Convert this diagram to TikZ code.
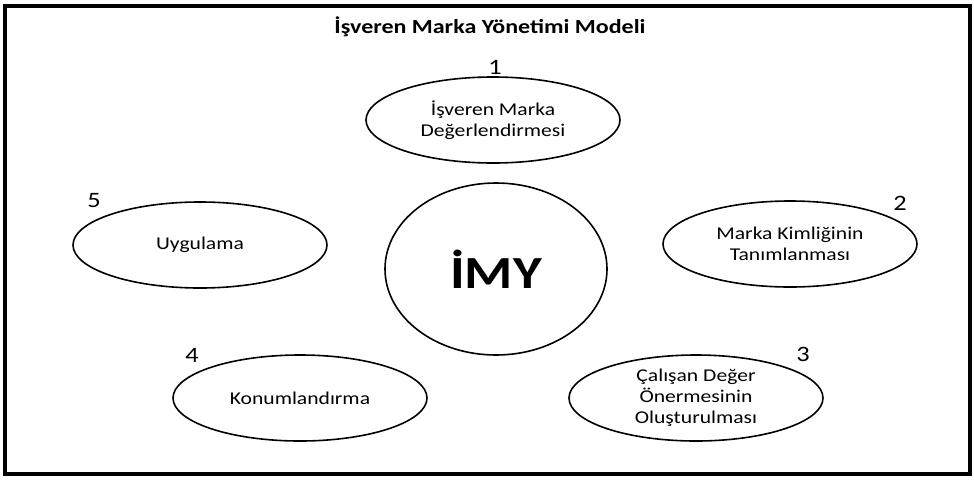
\documentclass[tikz,border=0pt]{standalone}
\usepackage{fontspec}
\setmainfont{Carlito}[FakeStretch=1.2]
\usetikzlibrary{shapes.geometric}

\begin{document}
\begin{tikzpicture}[x=1pt,y=-1pt,
    stage/.style={ellipse,draw,line width=1.6pt,minimum width=254pt,minimum height=86pt,
        inner sep=0pt,align=center,font=\fontsize{18}{21}\selectfont},
    stagenum/.style={font=\fontsize{22}{24}\selectfont}]
        \useasboundingbox (0,0) rectangle (974,480);
        \draw[line width=4pt] (5,6) rectangle (970,474);

        \node (title) at (490,27) {\fontsize{20}{24}\selectfont\bfseries İşveren Marka Yönetimi Modeli};
        \node (imy) [ellipse,draw,line width=1.6pt,minimum width=222pt,minimum height=172pt] at (496,269)
            {\fontsize{46}{50}\selectfont\bfseries İMY};

        \node (eval) [stage] at (493,120) {İşveren Marka\\Değerlendirmesi};
        \node (ident) [stage] at (790,244) {Marka Kimliğinin\\Tanımlanması};
        \node (value) [stage] at (696,398) {Çalışan Değer\\Önermesinin\\Oluşturulması};
        \node (pos) [stage] at (300,398) {Konumlandırma};
        \node (impl) [stage] at (200,245) {Uygulama};

        \node (n1) [stagenum] at (495,67) {1};
        \node (n2) [stagenum] at (900,203) {2};
        \node (n3) [stagenum] at (803,354) {3};
        \node (n4) [stagenum] at (192,355) {4};
        \node (n5) [stagenum] at (94,201) {5};
    \end{tikzpicture}
\end{document}
